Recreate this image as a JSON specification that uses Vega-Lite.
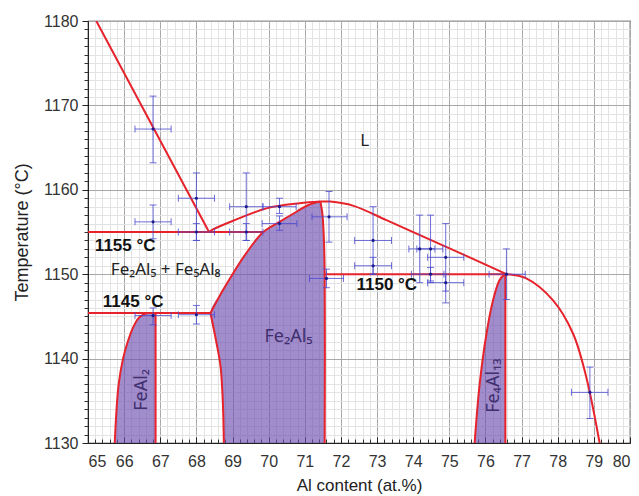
{
  "$schema": "https://vega.github.io/schema/vega-lite/v6.json",
  "width": 542,
  "height": 422,
  "autosize": {"type": "none"},
  "padding": {"left": 88, "top": 21, "right": 9, "bottom": 53},
  "background": "white",
  "config": {
    "font": "Liberation Sans",
    "view": {"stroke": "#222", "strokeWidth": 1.2},
    "axis": {"labelFont": "Liberation Sans", "titleFont": "Liberation Sans"}
  },
  "datasets": {
    "regions": [
      {"r": "FeAl2", "y": 1130, "x1": 65.74, "x2": 66.87},
      {"r": "FeAl2", "y": 1134, "x1": 65.79, "x2": 66.87},
      {"r": "FeAl2", "y": 1137, "x1": 65.85, "x2": 66.87},
      {"r": "FeAl2", "y": 1140, "x1": 65.97, "x2": 66.87},
      {"r": "FeAl2", "y": 1142, "x1": 66.1, "x2": 66.87},
      {"r": "FeAl2", "y": 1143.7, "x1": 66.25, "x2": 66.87},
      {"r": "FeAl2", "y": 1144.8, "x1": 66.4, "x2": 66.87},
      {"r": "FeAl2", "y": 1145.4, "x1": 66.62, "x2": 66.87},
      {"r": "Fe2Al5", "y": 1130, "x1": 68.76, "x2": 71.55},
      {"r": "Fe2Al5", "y": 1135, "x1": 68.73, "x2": 71.55},
      {"r": "Fe2Al5", "y": 1139, "x1": 68.67, "x2": 71.55},
      {"r": "Fe2Al5", "y": 1142, "x1": 68.55, "x2": 71.55},
      {"r": "Fe2Al5", "y": 1145.4, "x1": 68.39, "x2": 71.55},
      {"r": "Fe2Al5", "y": 1148, "x1": 68.72, "x2": 71.55},
      {"r": "Fe2Al5", "y": 1150, "x1": 69.0, "x2": 71.55},
      {"r": "Fe2Al5", "y": 1152.5, "x1": 69.38, "x2": 71.54},
      {"r": "Fe2Al5", "y": 1155, "x1": 69.85, "x2": 71.52},
      {"r": "Fe2Al5", "y": 1156.2, "x1": 70.3, "x2": 71.5},
      {"r": "Fe2Al5", "y": 1157.4, "x1": 70.77, "x2": 71.48},
      {"r": "Fe2Al5", "y": 1158.2, "x1": 71.1, "x2": 71.46},
      {"r": "Fe2Al5", "y": 1158.6, "x1": 71.43, "x2": 71.45},
      {"r": "Fe4Al13", "y": 1130, "x1": 75.7, "x2": 76.55},
      {"r": "Fe4Al13", "y": 1137, "x1": 75.84, "x2": 76.55},
      {"r": "Fe4Al13", "y": 1143, "x1": 76.03, "x2": 76.55},
      {"r": "Fe4Al13", "y": 1146.9, "x1": 76.21, "x2": 76.55},
      {"r": "Fe4Al13", "y": 1149.3, "x1": 76.39, "x2": 76.55},
      {"r": "Fe4Al13", "y": 1150, "x1": 76.53, "x2": 76.56}
    ],
    "lines": [
      {"s": "A", "i": 1, "x": 65.23, "y": 1180},
      {"s": "A", "i": 2, "x": 68.35, "y": 1155},
      {"s": "B", "i": 1, "x": 68.35, "y": 1155},
      {"s": "B", "i": 2, "x": 68.46, "y": 1155.3},
      {"s": "B", "i": 3, "x": 69.0, "y": 1156.3},
      {"s": "B", "i": 4, "x": 69.94, "y": 1157.8},
      {"s": "B", "i": 5, "x": 70.86, "y": 1158.4},
      {"s": "B", "i": 6, "x": 71.43, "y": 1158.6},
      {"s": "C1", "i": 1, "x": 71.43, "y": 1158.6},
      {"s": "C1", "i": 2, "x": 71.7, "y": 1158.6},
      {"s": "C1", "i": 3, "x": 72.35, "y": 1158.1},
      {"s": "C1", "i": 4, "x": 73.26, "y": 1156.4},
      {"s": "C1", "i": 5, "x": 74.2, "y": 1154.6},
      {"s": "C1", "i": 6, "x": 75.3, "y": 1152.5},
      {"s": "C1", "i": 7, "x": 76.58, "y": 1150},
      {"s": "C2", "i": 1, "x": 76.58, "y": 1150},
      {"s": "C2", "i": 2, "x": 77.13, "y": 1149.5},
      {"s": "C2", "i": 3, "x": 77.87, "y": 1146.9},
      {"s": "C2", "i": 4, "x": 78.42, "y": 1143.0},
      {"s": "C2", "i": 5, "x": 78.79, "y": 1137.8},
      {"s": "C2", "i": 6, "x": 79.16, "y": 1130},
      {"s": "D", "i": 1, "x": 65, "y": 1155},
      {"s": "D", "i": 2, "x": 69.85, "y": 1155},
      {"s": "E", "i": 1, "x": 65, "y": 1145.4},
      {"s": "E", "i": 2, "x": 68.39, "y": 1145.4},
      {"s": "F", "i": 1, "x": 71.55, "y": 1150},
      {"s": "F", "i": 2, "x": 76.58, "y": 1150},
      {"s": "G", "i": 1, "x": 68.39, "y": 1145.4},
      {"s": "G", "i": 2, "x": 68.72, "y": 1148},
      {"s": "G", "i": 3, "x": 69.0, "y": 1150},
      {"s": "G", "i": 4, "x": 69.38, "y": 1152.5},
      {"s": "G", "i": 5, "x": 69.85, "y": 1155},
      {"s": "G", "i": 6, "x": 70.3, "y": 1156.2},
      {"s": "G", "i": 7, "x": 70.77, "y": 1157.4},
      {"s": "G", "i": 8, "x": 71.1, "y": 1158.2},
      {"s": "G", "i": 9, "x": 71.43, "y": 1158.6},
      {"s": "H", "i": 1, "x": 68.39, "y": 1145.4},
      {"s": "H", "i": 2, "x": 68.55, "y": 1142},
      {"s": "H", "i": 3, "x": 68.67, "y": 1139},
      {"s": "H", "i": 4, "x": 68.73, "y": 1135},
      {"s": "H", "i": 5, "x": 68.76, "y": 1130},
      {"s": "I", "i": 1, "x": 71.43, "y": 1158.6},
      {"s": "I", "i": 2, "x": 71.48, "y": 1157.4},
      {"s": "I", "i": 3, "x": 71.52, "y": 1155},
      {"s": "I", "i": 4, "x": 71.55, "y": 1150},
      {"s": "I", "i": 5, "x": 71.55, "y": 1130},
      {"s": "J", "i": 1, "x": 65.74, "y": 1130},
      {"s": "J", "i": 2, "x": 65.79, "y": 1134},
      {"s": "J", "i": 3, "x": 65.85, "y": 1137},
      {"s": "J", "i": 4, "x": 65.97, "y": 1140},
      {"s": "J", "i": 5, "x": 66.1, "y": 1142},
      {"s": "J", "i": 6, "x": 66.25, "y": 1143.7},
      {"s": "J", "i": 7, "x": 66.4, "y": 1144.8},
      {"s": "J", "i": 8, "x": 66.62, "y": 1145.4},
      {"s": "K", "i": 1, "x": 66.87, "y": 1145.4},
      {"s": "K", "i": 2, "x": 66.87, "y": 1130},
      {"s": "L", "i": 1, "x": 75.7, "y": 1130},
      {"s": "L", "i": 2, "x": 75.84, "y": 1137},
      {"s": "L", "i": 3, "x": 76.03, "y": 1143},
      {"s": "L", "i": 4, "x": 76.21, "y": 1146.9},
      {"s": "L", "i": 5, "x": 76.39, "y": 1149.3},
      {"s": "L", "i": 6, "x": 76.53, "y": 1150},
      {"s": "M", "i": 1, "x": 76.55, "y": 1150},
      {"s": "M", "i": 2, "x": 76.55, "y": 1130}
    ],
    "pts": [
      {"x": 66.8, "y": 1167.2, "xlo": 66.3, "xhi": 67.3, "ylo": 1163.2, "yhi": 1171.1},
      {"x": 66.8, "y": 1156.2, "xlo": 66.3, "xhi": 67.3, "ylo": 1154.2, "yhi": 1158.2},
      {"x": 68.0, "y": 1159.0, "xlo": 67.5, "xhi": 68.5, "ylo": 1154.0, "yhi": 1162.0},
      {"x": 68.0, "y": 1155.0, "xlo": 67.5, "xhi": 68.5, "ylo": 1154.0, "yhi": 1156.0},
      {"x": 69.38, "y": 1158.0, "xlo": 68.92, "xhi": 69.84, "ylo": 1154.0, "yhi": 1162.0},
      {"x": 69.38, "y": 1155.0, "xlo": 68.92, "xhi": 69.84, "ylo": 1154.0, "yhi": 1156.0},
      {"x": 70.3, "y": 1158.0, "xlo": 69.84, "xhi": 70.76, "ylo": 1157.2, "yhi": 1159.0},
      {"x": 70.3, "y": 1156.0, "xlo": 69.82, "xhi": 70.78, "ylo": 1155.2, "yhi": 1156.9},
      {"x": 71.67, "y": 1156.8, "xlo": 71.2, "xhi": 72.17, "ylo": 1153.8, "yhi": 1159.8},
      {"x": 71.6, "y": 1149.5, "xlo": 71.13, "xhi": 72.07, "ylo": 1148.4, "yhi": 1150.6},
      {"x": 72.89, "y": 1154.0, "xlo": 72.38, "xhi": 73.4, "ylo": 1150.0, "yhi": 1158.0},
      {"x": 72.89, "y": 1151.0, "xlo": 72.38, "xhi": 73.4, "ylo": 1150.0, "yhi": 1152.0},
      {"x": 74.18, "y": 1153.0, "xlo": 73.88, "xhi": 74.6, "ylo": 1149.0, "yhi": 1157.0},
      {"x": 74.48, "y": 1153.0, "xlo": 74.1, "xhi": 74.82, "ylo": 1149.0, "yhi": 1157.0},
      {"x": 74.9, "y": 1152.0, "xlo": 74.4, "xhi": 75.4, "ylo": 1148.0, "yhi": 1156.0},
      {"x": 74.48, "y": 1150.0, "xlo": 73.95, "xhi": 74.85, "ylo": 1149.2, "yhi": 1150.8},
      {"x": 74.9, "y": 1149.0, "xlo": 74.4, "xhi": 75.4, "ylo": 1146.6, "yhi": 1150.0},
      {"x": 76.58, "y": 1150.0, "xlo": 76.1, "xhi": 77.1, "ylo": 1147.0, "yhi": 1153.0},
      {"x": 78.89, "y": 1136.0, "xlo": 78.38, "xhi": 79.39, "ylo": 1132.9, "yhi": 1139.0},
      {"x": 66.8, "y": 1145.1, "xlo": 66.3, "xhi": 67.3, "ylo": 1144.0, "yhi": 1146.0},
      {"x": 68.0, "y": 1145.2, "xlo": 67.5, "xhi": 68.5, "ylo": 1144.1, "yhi": 1146.3}
    ],
    "labels": [
      {"t": "1155 °C", "x": 65.19, "y": 1153.3, "g": "bold"},
      {"t": "1145 °C", "x": 65.41, "y": 1146.7, "g": "bold"},
      {"t": "1150 °C", "x": 72.43, "y": 1148.7, "g": "bold"},
      {"t": "L", "x": 72.66, "y": 1165.75, "g": "plain"},
      {"t": "Fe₂Al₅ + Fe₅Al₈", "x": 67.15, "y": 1150.5, "g": "plain"},
      {"t": "Fe₂Al₅", "x": 70.55, "y": 1142.6, "g": "phase"},
      {"t": "FeAl₂", "x": 66.49, "y": 1136.3, "g": "rot"},
      {"t": "Fe₄Al₁₃", "x": 76.23, "y": 1136.8, "g": "rot"}
    ]
  },
  "resolve": {"axis": {"x": "independent", "y": "independent"}},
  "layer": [
    {
      "data": {"name": "regions"},
      "mark": {"type": "area", "orient": "horizontal", "interpolate": "monotone", "color": "#6f4fb0", "opacity": 0.65, "clip": true},
      "encoding": {
        "y": {"field": "y", "type": "quantitative", "scale": {"domain": [1130, 1180], "nice": false, "zero": false},
          "axis": {"orient": "left", "values": [1131,1132,1133,1134,1135,1136,1137,1138,1139,1141,1142,1143,1144,1145,1146,1147,1148,1149,1151,1152,1153,1154,1155,1156,1157,1158,1159,1161,1162,1163,1164,1165,1166,1167,1168,1169,1171,1172,1173,1174,1175,1176,1177,1178,1179],
            "grid": true, "gridColor": "#e3e3e3", "gridWidth": 1, "labels": false, "domain": false, "ticks": true, "tickSize": 4, "tickColor": "#333", "title": null}},
        "x": {"field": "x1", "type": "quantitative", "scale": {"domain": [65, 80], "nice": false, "zero": false},
          "axis": {"orient": "bottom", "values": [65.2,65.4,65.6,65.8,66.2,66.4,66.6,66.8,67.2,67.4,67.6,67.8,68.2,68.4,68.6,68.8,69.2,69.4,69.6,69.8,70.2,70.4,70.6,70.8,71.2,71.4,71.6,71.8,72.2,72.4,72.6,72.8,73.2,73.4,73.6,73.8,74.2,74.4,74.6,74.8,75.2,75.4,75.6,75.8,76.2,76.4,76.6,76.8,77.2,77.4,77.6,77.8,78.2,78.4,78.6,78.8,79.2,79.4,79.6,79.8],
            "grid": true, "gridColor": "#e3e3e3", "gridWidth": 1, "labels": false, "domain": false, "ticks": true, "tickSize": -4, "tickColor": "#333", "title": null}},
        "x2": {"field": "x2"},
        "detail": {"field": "r"}
      }
    },
    {
      "data": {"name": "lines"},
      "mark": {"type": "line", "interpolate": "catmull-rom", "color": "#e6222b", "strokeWidth": 2, "clip": true},
      "encoding": {
        "x": {"field": "x", "type": "quantitative",
          "axis": {"orient": "bottom", "values": [65,66,67,68,69,70,71,72,73,74,75,76,77,78,79,80], "format": "d",
            "grid": true, "gridColor": "#a8a8a8", "gridWidth": 1, "domainColor": "#222", "ticks": true, "tickSize": -6, "tickColor": "#222",
            "labelFontSize": 16, "labelColor": "#333", "labelPadding": 16,
            "title": "Al content (at.%)", "titleFontSize": 17, "titleFontWeight": "normal", "titleColor": "#222", "titlePadding": 8}},
        "y": {"field": "y", "type": "quantitative",
          "axis": {"orient": "left", "values": [1130,1140,1150,1160,1170,1180], "format": "d",
            "grid": true, "gridColor": "#a8a8a8", "gridWidth": 1, "domainColor": "#222", "ticks": true, "tickSize": 6, "tickColor": "#222",
            "labelFontSize": 16, "labelColor": "#333", "labelPadding": 4,
            "title": "Temperature (°C)", "titleFontSize": 18, "titleFontWeight": "normal", "titleColor": "#222", "titlePadding": 12}},
        "detail": {"field": "s"},
        "order": {"field": "i", "type": "quantitative"}
      }
    },
    {
      "data": {"name": "pts"},
      "mark": {"type": "rule", "color": "#4a4ad0", "strokeWidth": 1, "opacity": 0.8},
      "encoding": {
        "x": {"field": "xlo", "type": "quantitative", "axis": null},
        "x2": {"field": "xhi"},
        "y": {"field": "y", "type": "quantitative", "axis": null}
      }
    },
    {
      "data": {"name": "pts"},
      "mark": {"type": "rule", "color": "#4a4ad0", "strokeWidth": 1, "opacity": 0.8},
      "encoding": {
        "x": {"field": "x", "type": "quantitative", "axis": null},
        "y": {"field": "ylo", "type": "quantitative", "axis": null},
        "y2": {"field": "yhi"}
      }
    },
    {
      "data": {"name": "pts"},
      "mark": {"type": "tick", "orient": "vertical", "color": "#4a4ad0", "size": 7, "thickness": 1, "opacity": 0.8},
      "encoding": {
        "x": {"field": "xlo", "type": "quantitative", "axis": null},
        "y": {"field": "y", "type": "quantitative", "axis": null}
      }
    },
    {
      "data": {"name": "pts"},
      "mark": {"type": "tick", "orient": "vertical", "color": "#4a4ad0", "size": 7, "thickness": 1, "opacity": 0.8},
      "encoding": {
        "x": {"field": "xhi", "type": "quantitative", "axis": null},
        "y": {"field": "y", "type": "quantitative", "axis": null}
      }
    },
    {
      "data": {"name": "pts"},
      "mark": {"type": "tick", "orient": "horizontal", "color": "#4a4ad0", "size": 7, "thickness": 1, "opacity": 0.8},
      "encoding": {
        "x": {"field": "x", "type": "quantitative", "axis": null},
        "y": {"field": "ylo", "type": "quantitative", "axis": null}
      }
    },
    {
      "data": {"name": "pts"},
      "mark": {"type": "tick", "orient": "horizontal", "color": "#4a4ad0", "size": 7, "thickness": 1, "opacity": 0.8},
      "encoding": {
        "x": {"field": "x", "type": "quantitative", "axis": null},
        "y": {"field": "yhi", "type": "quantitative", "axis": null}
      }
    },
    {
      "data": {"name": "pts"},
      "mark": {"type": "point", "filled": true, "color": "#1a1a8c", "size": 10, "opacity": 1},
      "encoding": {
        "x": {"field": "x", "type": "quantitative", "axis": null},
        "y": {"field": "y", "type": "quantitative", "axis": null}
      }
    },
    {
      "data": {"name": "labels"},
      "transform": [{"filter": "datum.g == 'bold'"}],
      "mark": {"type": "text", "align": "left", "baseline": "middle", "fontSize": 17, "fontWeight": "bold", "color": "#111"},
      "encoding": {
        "x": {"field": "x", "type": "quantitative", "axis": null},
        "y": {"field": "y", "type": "quantitative", "axis": null},
        "text": {"field": "t"}
      }
    },
    {
      "data": {"name": "labels"},
      "transform": [{"filter": "datum.g == 'plain'"}],
      "mark": {"type": "text", "align": "center", "baseline": "middle", "fontSize": 17, "font": "Noto Sans", "color": "#222"},
      "encoding": {
        "x": {"field": "x", "type": "quantitative", "axis": null},
        "y": {"field": "y", "type": "quantitative", "axis": null},
        "text": {"field": "t"}
      }
    },
    {
      "data": {"name": "labels"},
      "transform": [{"filter": "datum.g == 'phase'"}],
      "mark": {"type": "text", "align": "center", "baseline": "middle", "fontSize": 18, "font": "Noto Sans", "color": "#3f2f6e"},
      "encoding": {
        "x": {"field": "x", "type": "quantitative", "axis": null},
        "y": {"field": "y", "type": "quantitative", "axis": null},
        "text": {"field": "t"}
      }
    },
    {
      "data": {"name": "labels"},
      "transform": [{"filter": "datum.g == 'rot'"}],
      "mark": {"type": "text", "align": "center", "baseline": "middle", "fontSize": 18, "font": "Noto Sans", "angle": 270, "color": "#3f2f6e"},
      "encoding": {
        "x": {"field": "x", "type": "quantitative", "axis": null},
        "y": {"field": "y", "type": "quantitative", "axis": null},
        "text": {"field": "t"}
      }
    }
  ]
}
